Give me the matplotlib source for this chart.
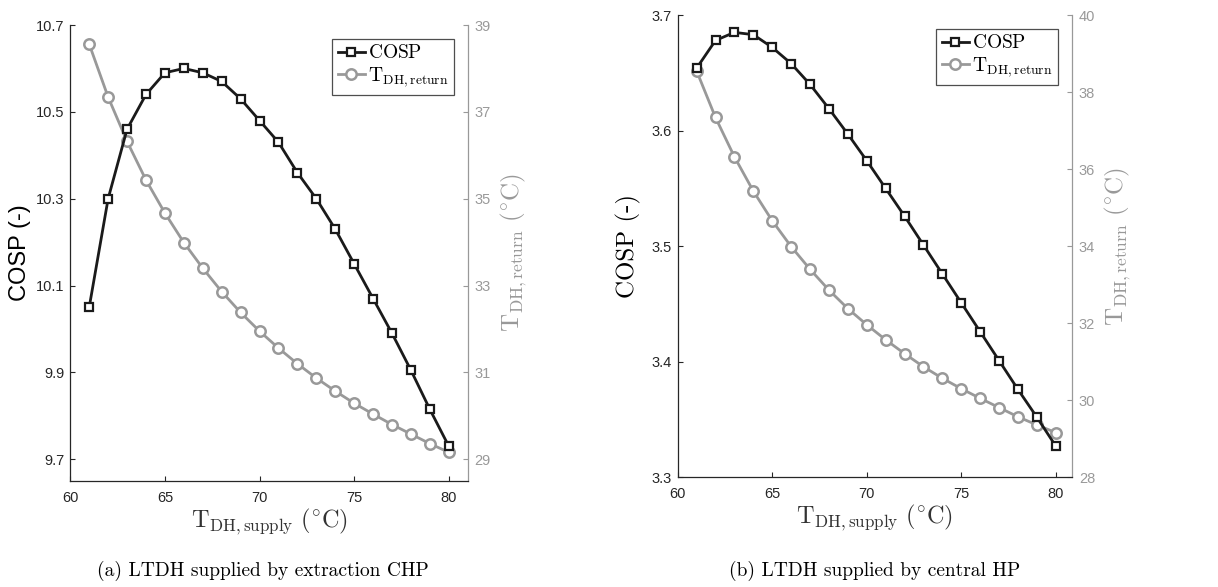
import matplotlib
matplotlib.use("Agg")
import matplotlib.pyplot as plt
from matplotlib.lines import Line2D

plt.rcParams['mathtext.fontset'] = 'cm'
plt.rcParams['font.family'] = ['Liberation Sans', 'DejaVu Sans']
plt.rcParams['axes.unicode_minus'] = False

# ---------------- data ----------------
t_supply = [61, 62, 63, 64, 65, 66, 67, 68, 69, 70,
            71, 72, 73, 74, 75, 76, 77, 78, 79, 80]

cosp_chp = [10.05, 10.30, 10.46, 10.54, 10.59, 10.60, 10.59, 10.57, 10.53, 10.48,
            10.43, 10.36, 10.30, 10.23, 10.15, 10.07, 9.99, 9.905, 9.815, 9.73]
t_return_chp = [38.56, 37.34, 36.32, 35.43, 34.67, 33.99, 33.40, 32.86, 32.38, 31.95,
                31.56, 31.20, 30.87, 30.57, 30.29, 30.04, 29.80, 29.58, 29.36, 29.16]

cosp_hp = [3.654, 3.678, 3.685, 3.683, 3.672, 3.658, 3.640, 3.619, 3.597, 3.574,
           3.550, 3.526, 3.501, 3.476, 3.451, 3.426, 3.401, 3.376, 3.352, 3.327]
t_return_hp = [38.55, 37.34, 36.32, 35.43, 34.66, 33.99, 33.40, 32.86, 32.38, 31.96,
               31.57, 31.21, 30.87, 30.57, 30.30, 30.05, 29.81, 29.57, 29.36, 29.16]

x_ticks = [60, 65, 70, 75, 80]
y_ticks_chp = [9.7, 9.9, 10.1, 10.3, 10.5, 10.7]
y2_ticks_chp = [29, 31, 33, 35, 37, 39]
y_ticks_hp = [3.3, 3.4, 3.5, 3.6, 3.7]
y2_ticks_hp = [28, 30, 32, 34, 36, 38, 40]

captions = ["(a) LTDH supplied by extraction CHP", "(b) LTDH supplied by central HP"]

# ---------------- style ----------------
BLACK = '#1a1a1a'
GRAY = '#999999'
AX = '#262626'
xlab = r'$\mathrm{T_{DH,supply}}\ (^{\circ}\mathrm{C})$'
y2lab = r'$\mathrm{T_{DH,return}}\ (^{\circ}\mathrm{C})$'

fig = plt.figure(figsize=(12.18, 5.87), dpi=100)

panels = [
    dict(rect=[0.0577, 0.1806, 0.3263, 0.7768], cosp=cosp_chp, tret=t_return_chp,
         ylim=(9.65, 10.7), y2lim=(28.5, 39), yt=y_ticks_chp, y2t=y2_ticks_chp,
         xlim=(60, 81), serif_ylabel=False, cap=captions[0], capx=0.2155),
    dict(rect=[0.5564, 0.1869, 0.3236, 0.7875], cosp=cosp_hp, tret=t_return_hp,
         ylim=(3.3, 3.7), y2lim=(28, 40), yt=y_ticks_hp, y2t=y2_ticks_hp,
         xlim=(60, 80.85), serif_ylabel=True, cap=captions[1], capx=0.718),
]

for p in panels:
    ax = fig.add_axes(p['rect'])
    ax2 = ax.twinx()
    ax.set_zorder(ax2.get_zorder() + 1)
    ax.patch.set_visible(False)

    ax.plot(t_supply, p['cosp'], color=BLACK, lw=2.0, marker='s', ms=5.5,
            mfc='white', mec=BLACK, mew=1.6, clip_on=False, zorder=3)
    ax2.plot(t_supply, p['tret'], color=GRAY, lw=2.0, marker='o', ms=7.5,
             mfc='white', mec=GRAY, mew=1.8, clip_on=False, zorder=2)

    ax.set_xlim(*p['xlim'])
    ax.set_ylim(*p['ylim'])
    ax2.set_ylim(*p['y2lim'])
    ax.set_xticks(x_ticks)
    ax.set_xticklabels([str(v) for v in x_ticks])
    ax.set_yticks(p['yt'])
    ax.set_yticklabels(['{:.1f}'.format(v) for v in p['yt']])
    ax2.set_yticks(p['y2t'])
    ax2.set_yticklabels([str(v) for v in p['y2t']])

    for a in (ax, ax2):
        a.spines['top'].set_visible(False)
    ax.spines['right'].set_visible(False)
    ax2.spines['left'].set_visible(False)
    ax2.spines['bottom'].set_visible(False)
    ax.spines['left'].set_color(AX)
    ax.spines['bottom'].set_color(AX)
    ax2.spines['right'].set_color(GRAY)
    for s in ('left', 'bottom'):
        ax.spines[s].set_linewidth(0.9)
    ax2.spines['right'].set_linewidth(0.9)

    ax.tick_params(axis='both', direction='in', length=3.5, width=0.8,
                   colors=AX, labelsize=10.5)
    ax.tick_params(axis='x', pad=7)
    ax.tick_params(axis='y', pad=4)
    ax2.tick_params(axis='y', direction='in', length=3.5, width=0.8,
                    colors=GRAY, labelsize=10.5, pad=5)

    ax.set_xlabel(xlab, fontsize=17.5, color='#333333', labelpad=1)
    if p['serif_ylabel']:
        ax.set_ylabel('COSP (-)', fontsize=18, color='black', labelpad=8,
                      family='cmr10')
    else:
        ax.set_ylabel('COSP (-)', fontsize=17, color='black', labelpad=4)
    ax2.set_ylabel(y2lab, fontsize=18, color=GRAY, labelpad=5)

    handles = [
        Line2D([], [], color=BLACK, lw=2.0, marker='s', ms=5.5, mfc='white',
               mec=BLACK, mew=1.6),
        Line2D([], [], color=GRAY, lw=2.0, marker='o', ms=7.5, mfc='white',
               mec=GRAY, mew=1.8),
    ]
    leg = ax.legend(handles, [r'$\mathrm{COSP}$', r'$\mathrm{T_{DH,return}}$'],
                    loc='upper right', fontsize=14, frameon=True, fancybox=False,
                    handlelength=1.4, handletextpad=0.15, borderpad=0.3,
                    labelspacing=0.15, borderaxespad=0.7)
    leg.get_frame().set_edgecolor('#222222')
    leg.get_frame().set_linewidth(0.9)

    fig.text(p['capx'], 0.028, p['cap'], ha='center', va='center',
             fontsize=14, family='cmr10')

fig.savefig('out.png', dpi=100)
